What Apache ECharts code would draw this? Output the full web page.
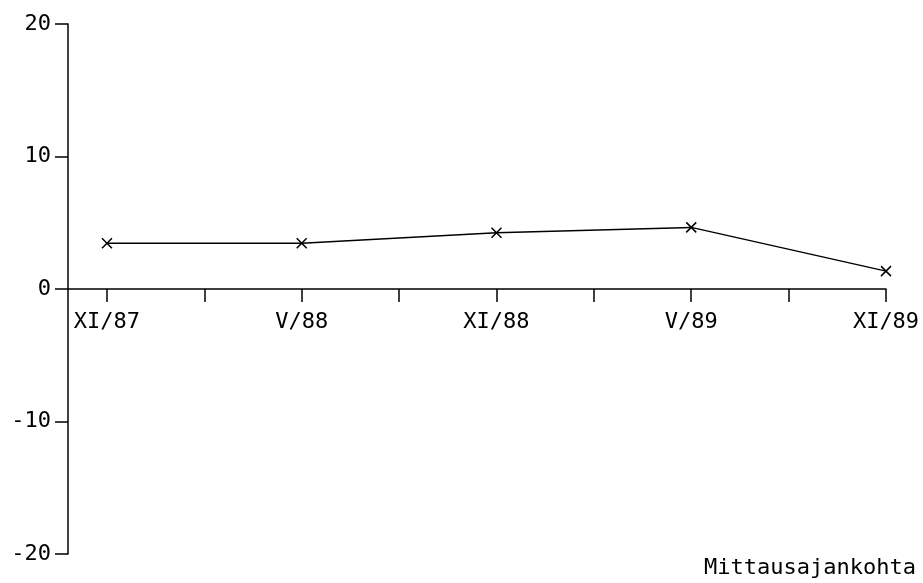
<!DOCTYPE html>
<html>
<head>
<meta charset="utf-8">
<script src="https://cdn.jsdelivr.net/npm/echarts@6/dist/echarts.min.js"></script>
<style>
html,body{margin:0;padding:0;background:#fff;}
#chart{width:923px;height:583px;}
</style>
</head>
<body>
<div id="chart"></div>
<script>
var categories = ['XI/87', 'V/88', 'XI/88', 'V/89', 'XI/89'];
var values = [3.45, 3.45, 4.25, 4.65, 1.35];
var yTicks = [-20, -10, 0, 10, 20];
var xTitle = 'Mittausajankohta';

var FONT = 'DejaVu Sans Mono';
var chart = echarts.init(document.getElementById('chart'), null, {renderer: 'canvas'});

var points = values.map(function (v, i) { return [i, v]; });
var labelPos = categories.map(function (c, i) { return i; });
var tickPos = [];
for (var k = 0; k < categories.length * 2 - 1; k++) tickPos.push(k / 2);

var xSymbol = 'path://M0,0L10,10M10,0L0,10';
var GRID_TOP = 24, GRID_BOTTOM = 29, H = 583;
var plotH = H - GRID_TOP - GRID_BOTTOM;
var yMin = yTicks[0], yMax = yTicks[yTicks.length - 1];
var zeroFromBottom = plotH * (0 - yMin) / (yMax - yMin);

chart.setOption({
  animation: false,
  backgroundColor: '#ffffff',
  grid: {left: 68, right: 37, top: GRID_TOP, bottom: GRID_BOTTOM, containLabel: false, outerBoundsMode: 'none'},
  xAxis: {
    type: 'value',
    position: 'bottom',
    offset: -zeroFromBottom,
    min: -0.2,
    max: categories.length - 1,
    axisLine: {show: true, onZero: false, lineStyle: {color: '#000', width: 1.5}},
    axisTick: {show: true, inside: false, length: 13, customValues: tickPos, lineStyle: {color: '#000', width: 1.5}},
    axisLabel: {
      show: true,
      customValues: labelPos,
      margin: 22,
      color: '#000',
      fontFamily: FONT,
      fontSize: 22,
      hideOverlap: false,
      formatter: function (v) { return categories[Math.round(v)] || ''; }
    },
    splitLine: {show: false}
  },
  yAxis: {
    type: 'value',
    min: yMin,
    max: yMax,
    interval: 10,
    axisLine: {show: true, onZero: false, lineStyle: {color: '#000', width: 1.5}},
    axisTick: {show: true, inside: false, length: 13, lineStyle: {color: '#000', width: 1.5}},
    axisLabel: {
      show: true,
      margin: 17,
      color: '#000',
      fontFamily: FONT,
      fontSize: 22
    },
    splitLine: {show: false}
  },
  graphic: [{
    type: 'text',
    right: 7,
    bottom: 4,
    style: {text: xTitle, fill: '#000', font: '22px "DejaVu Sans Mono"'}
  }],
  series: [{
    type: 'line',
    data: points,
    symbol: xSymbol,
    symbolSize: 10,
    showAllSymbol: true,
    lineStyle: {color: '#000', width: 1.5},
    itemStyle: {color: '#000', borderColor: '#000', borderWidth: 1.5}
  }]
});
</script>
</body>
</html>
